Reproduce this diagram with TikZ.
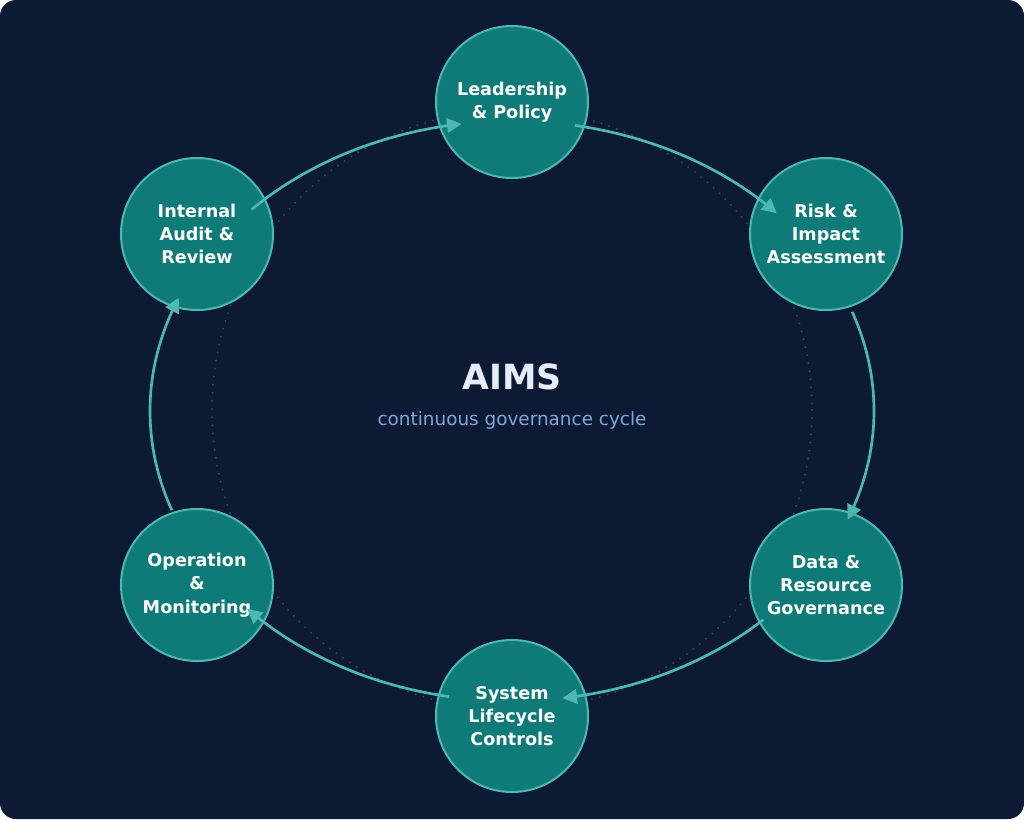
\documentclass[tikz,border=0pt]{standalone}
\usepackage{fontspec}
\setmainfont{DejaVu Sans}
\usetikzlibrary{arrows.meta}
\definecolor{bg}{HTML}{0D1A33}
\definecolor{teal}{HTML}{0F7B78}
\definecolor{edge}{HTML}{4DB8B0}
\definecolor{dots}{HTML}{34456A}
\definecolor{sub}{HTML}{7FA6D6}
\definecolor{ttl}{HTML}{E6EDF8}
\begin{document}
\begin{tikzpicture}[x=0.75pt,y=-0.75pt,
  stage/.style={circle,draw=edge,line width=1.5pt,fill=teal,minimum size=114pt,inner sep=0pt,
    text=white,font=\bfseries\fontsize{13.2}{17.5}\selectfont,align=center},
  flow/.style={draw=edge,line width=2pt,-{Triangle[length=11pt,width=11pt]}}]
\useasboundingbox (0,0) rectangle (1024,819);
\fill[white] (0,0) rectangle (1024,819);
\fill[bg,rounded corners=12pt] (0,0) rectangle (1024,819);
\draw[dots,line width=1.6pt,dash pattern=on 0.1pt off 6pt,line cap=round] (512,410) circle[radius=300];
\node[stage] (lp) at (512,102) {Leadership\\\& Policy};
\node[stage] (ri) at (826,234) {Risk \&\\Impact\\Assessment};
\node[stage] (dr) at (826,585) {Data \&\\Resource\\Governance};
\node[stage] (sl) at (512,716) {System\\Lifecycle\\Controls};
\node[stage] (om) at (197,585) {Operation\\\&\\Monitoring};
\node[stage] (ia) at (197,234) {Internal\\Audit \&\\Review};
\draw[flow] plot[domain=80:43,samples=40,smooth] ({512+362*cos(\x)},{411-290*sin(\x)});
\draw[flow] plot[domain=20:-22,samples=40,smooth] ({512+362*cos(\x)},{411-290*sin(\x)});
\draw[flow] plot[domain=-46:-82,samples=40,smooth] ({512+362*cos(\x)},{411-290*sin(\x)});
\draw[flow] plot[domain=-100:-137,samples=40,smooth] ({512+362*cos(\x)},{411-290*sin(\x)});
\draw[flow] plot[domain=-160:-203,samples=40,smooth] ({512+362*cos(\x)},{411-290*sin(\x)});
\draw[flow] plot[domain=136:98,samples=40,smooth] ({512+362*cos(\x)},{411-290*sin(\x)});
\node[text=ttl,font=\bfseries\fontsize{26}{30}\selectfont] (t) at (512,377) {AIMS};
\node[text=sub,font=\fontsize{13.8}{16}\selectfont] (s) at (512,420) {continuous governance cycle};
\end{tikzpicture}
\end{document}
